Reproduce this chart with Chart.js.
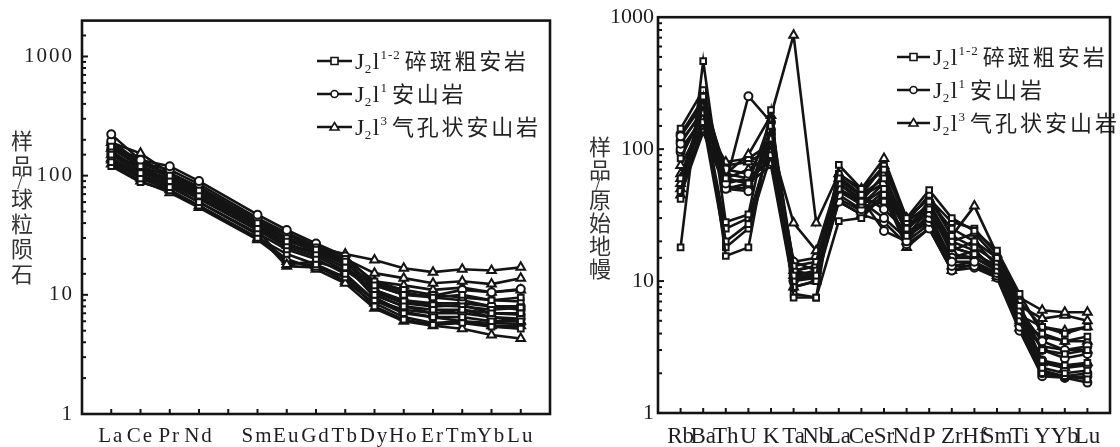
<!DOCTYPE html>
<html>
<head>
<meta charset="utf-8">
<script src="https://cdn.jsdelivr.net/npm/chart.js@4.4.1/dist/chart.umd.min.js"></script>
<style>
  body { margin: 0; background: #fff; }
  .box { position: absolute; top: 0; width: 560px; height: 447px; }
</style>
</head>
<body>
<div class="box" style="left:0"><canvas id="ree"></canvas></div>
<div class="box" style="left:560px"><canvas id="spider"></canvas></div>
<script>
// ---- data ----
// chondrite normalised REE (Pm left empty)
var reeLabels = ['La', 'Ce', 'Pr', 'Nd', '', 'Sm', 'Eu', 'Gd', 'Tb', 'Dy', 'Ho', 'Er', 'Tm', 'Yb', 'Lu'];
var reeSquare = [
  [175, 120, 100, 75, null, 40, 28, 24, 19, 12, 10, 9.5, 10, 9, 9.5],
  [150, 105, 90, 68, null, 36, 26, 22, 17, 10, 8, 7.5, 7.5, 7, 7],
  [130, 95, 80, 60, null, 33, 24, 20, 15, 9, 7, 6.5, 6.5, 6, 6],
  [120, 88, 75, 56, null, 30, 22, 18, 14, 8, 6.2, 5.6, 5.8, 5.4, 5.2],
  [160, 110, 92, 70, null, 38, 30, 25, 20, 13, 11, 10, 9.5, 9, 8.8],
  [140, 100, 85, 64, null, 35, 25, 21, 16, 11, 8.8, 8.2, 8, 7.5, 7.8]
];
var reeCircle = [
  [222, 135, 120, 90, null, 47, 35, 27, 21, 12.5, 10.5, 9.5, 9, 8, 7.5],
  [195, 128, 112, 85, null, 44, 33, 26, 20, 11, 9, 8.5, 8.5, 8, 8],
  [185, 125, 105, 80, null, 42, 32, 25, 19.5, 10, 8, 7, 7, 6.5, 6.3],
  [170, 118, 100, 78, null, 40, 29, 23, 18, 9.5, 7.2, 6.5, 6, 5.8, 5.7],
  [160, 112, 95, 72, null, 39, 30, 24, 18.5, 12, 10, 9.8, 11, 10.5, 11.2],
  [150, 105, 88, 66, null, 37, 27, 22, 17, 10.5, 8.5, 8, 8.2, 7, 6.8]
];
var reeTriangle = [
  [190, 154, 105, 80, null, 42, 30, 25, 22, 19.6, 16.7, 15.5, 16.4, 16, 17],
  [170, 140, 98, 74, null, 40, 26, 23, 20, 15.2, 13.8, 12.5, 13, 12.3, 13.8],
  [150, 118, 90, 66, null, 35, 18, 19, 16, 13, 12, 11, 11.5, 10.5, 11],
  [140, 100, 82, 60, null, 32, 17.4, 17, 14, 9, 7.5, 7, 7.5, 6.5, 6],
  [135, 95, 76, 56, null, 30, 20, 16.4, 12.5, 7.7, 6, 5.5, 5.2, 4.6, 4.3],
  [125, 90, 72, 54, null, 29, 19, 17.5, 13, 8.5, 6.5, 5.8, 6, 5.5, 5.5]
];

// primitive mantle normalised trace elements
var spLabels = ['Rb', 'Ba', 'Th', 'U', 'K', 'Ta', 'Nb', 'La', 'Ce', 'Sr', 'Nd', 'P', 'Zr', 'Hf', 'Sm', 'Ti', 'Y', 'Yb', 'Lu'];
var spSquare = [
  [18, 465, 28, 32, 198, 7.5, 7.5, 76, 50, 70, 30, 49, 30, 24, 17, 8, 4, 3.5, 3.8],
  [42, 250, 15.5, 18, 150, 8, 7.5, 28.5, 30, 45, 25, 40, 25, 20, 15, 6.5, 3, 2.8, 3],
  [48, 220, 20, 27, 120, 11, 11, 60, 45, 60, 28, 45, 22, 18, 14, 6, 2.5, 2.3, 2.4],
  [85, 190, 25, 30, 110, 10, 12, 55, 40, 40, 22, 35, 18, 16, 13, 5.5, 2.2, 2, 2.1],
  [143, 280, 60, 55, 170, 13, 14, 65, 48, 75, 30, 42, 28, 25, 16, 7, 4.5, 4, 4.5],
  [60, 160, 18, 25, 90, 9, 10, 50, 38, 50, 24, 38, 20, 17, 12, 5, 2, 1.9, 1.8]
];
var spCircle = [
  [125, 220, 55, 252, 160, 12, 13, 62, 45, 35, 24, 40, 18, 16, 13, 6, 3.5, 3, 3.2],
  [110, 200, 50, 48, 140, 10, 11, 55, 42, 24, 20, 33, 14, 14, 11.5, 5, 2.1, 1.9, 2],
  [100, 170, 60, 55, 100, 11, 12, 50, 40, 30, 21, 30, 13, 13, 11, 4.5, 2, 1.85, 1.7],
  [130, 240, 70, 65, 130, 14, 15, 45, 35, 40, 22, 28, 15, 15, 12, 5.5, 2.5, 2.2, 2.3],
  [115, 190, 52, 50, 120, 12, 13, 58, 44, 55, 26, 36, 16, 15, 12.5, 5.8, 3, 2.6, 2.8],
  [95, 180, 65, 60, 80, 10, 10.6, 40, 32, 28, 19, 25, 12, 12.6, 10.6, 4.2, 1.9, 1.85, 1.9]
];
var spTriangle = [
  [60, 210, 65, 91, 180, 730, 27.5, 65, 50, 85, 30, 42, 22, 37, 16, 7.5, 6, 5.8, 5.8],
  [75, 160, 80, 85, 110, 27.5, 17, 60, 45, 75, 28, 38, 20, 23, 15, 6.5, 5.2, 5.5, 5],
  [65, 150, 75, 80, 100, 14, 12, 50, 40, 65, 25, 34, 17, 20, 13, 5.5, 4.5, 4.2, 4.5],
  [55, 140, 60, 70, 90, 12, 11, 48, 38, 55, 23, 30, 15, 17, 12, 5, 3.8, 3.5, 3.5],
  [50, 145, 55, 60, 85, 11, 10.6, 42, 34, 48, 20, 27, 13, 14, 11, 4.8, 3.2, 3, 3],
  [45, 135, 50, 55, 75, 9, 10, 40, 32, 45, 18, 25, 12, 13.5, 10.6, 4.4, 2.4, 2.2, 2.4]
];

var legendSup = ['1-2', '1', '3'];
var legendName = ['碎斑粗安岩', '安山岩', '气孔状安山岩'];
var legendStyle = ['rect', 'circle', 'triangle'];

var SERIF = "'Liberation Serif', 'DejaVu Serif', serif";
var CJK = "'Noto Sans CJK SC', sans-serif";
var INK = '#141414';

// ---- helpers ----
function isDecade(v) {
  var l = Math.log10(v);
  return Math.abs(l - Math.round(l)) < 1e-6;
}

function makeSets(groups) {
  var out = [];
  groups.forEach(function (rows, g) {
    rows.forEach(function (r) {
      out.push({
        label: 'J₂l' + legendSup[g] + legendName[g],
        data: [null].concat(r, [null]),
        pointStyle: legendStyle[g],
        pointRadius: g === 2 ? 5 : 4,
        pointBackgroundColor: '#fff',
        pointBorderColor: INK,
        pointBorderWidth: 2,
        borderColor: INK,
        borderWidth: 2.6,
        spanGaps: true,
        tension: 0
      });
    });
  });
  return out;
}

function marker(ctx, style, x, y) {
  ctx.beginPath();
  if (style === 'rect') {
    ctx.rect(x - 3.5, y - 3.5, 7, 7);
  } else if (style === 'circle') {
    ctx.arc(x, y, 3.5, 0, Math.PI * 2);
  } else {
    ctx.moveTo(x, y - 4.5); ctx.lineTo(x + 4.5, y + 3); ctx.lineTo(x - 4.5, y + 3); ctx.closePath();
  }
  ctx.fillStyle = '#fff';
  ctx.fill();
  ctx.stroke();
}

// inward ticks + box
var frame = {
  id: 'frame',
  afterDraw: function (chart) {
    var ctx = chart.ctx, a = chart.chartArea, x = chart.scales.x, y = chart.scales.y;
    ctx.save();
    ctx.strokeStyle = INK;
    ctx.lineWidth = 2;
    y.ticks.forEach(function (t) {
      var py = y.getPixelForValue(t.value);
      if (py < a.top + 1 || py > a.bottom - 1) return;
      ctx.beginPath();
      ctx.moveTo(a.left, py);
      ctx.lineTo(a.left + (isDecade(t.value) ? 6 : 4), py);
      ctx.stroke();
    });
    for (var i = 1; i < x.ticks.length - 1; i++) {
      var px = x.getPixelForTick(i);
      ctx.beginPath();
      ctx.moveTo(px, a.bottom);
      ctx.lineTo(px, a.bottom - 5);
      ctx.stroke();
    }
    ctx.lineWidth = 2.6;
    ctx.strokeRect(a.left, a.top, a.right - a.left, a.bottom - a.top);
    ctx.restore();
  }
};

// upright vertical y title
var ytitle = {
  id: 'ytitle',
  afterDraw: function (chart, args, o) {
    var ctx = chart.ctx;
    ctx.save();
    ctx.letterSpacing = '0px';
    ctx.fillStyle = '#333';
    ctx.textAlign = 'center';
    ctx.textBaseline = 'middle';
    var yy = o.y0;
    o.chars.forEach(function (c) {
      if (c === '/') {
        ctx.font = (o.size - 2) + 'px ' + SERIF;
        ctx.fillText('/', o.x - 2, yy - o.step * 0.3);
        yy += o.step * 0.3;
        return;
      }
      ctx.font = o.size + 'px ' + CJK;
      ctx.fillText(c, o.x, yy);
      yy += o.step;
    });
    ctx.restore();
  }
};

// legend with sub/superscripts
var legendBox = {
  id: 'legendBox',
  afterDatasetsDraw: function (chart, args, o) {
    var ctx = chart.ctx;
    ctx.save();
    ctx.strokeStyle = INK;
    ctx.textBaseline = 'alphabetic';
    ctx.textAlign = 'left';
    o.rows.forEach(function (ry, g) {
      ctx.lineWidth = 2.6;
      ctx.beginPath();
      ctx.moveTo(o.x0, ry); ctx.lineTo(o.x1, ry);
      ctx.stroke();
      ctx.lineWidth = 1.6;
      marker(ctx, legendStyle[g], (o.x0 + o.x1) / 2, ry);
      ctx.fillStyle = '#222';
      var bx = o.tx, base = ry + 8;
      ctx.letterSpacing = '0px';
      ctx.font = '24px ' + SERIF;
      ctx.fillText('J', bx, base); bx += ctx.measureText('J').width + 0.5;
      ctx.font = '13px ' + SERIF;
      ctx.fillText('2', bx, base + 4); bx += ctx.measureText('2').width + 1.5;
      ctx.font = '24px ' + SERIF;
      ctx.fillText('l', bx, base); bx += ctx.measureText('l').width + 1;
      ctx.font = '13px ' + SERIF;
      ctx.letterSpacing = '1px';
      ctx.fillText(legendSup[g], bx, base - 10); bx += ctx.measureText(legendSup[g]).width + 4;
      ctx.font = o.size + 'px ' + CJK;
      ctx.letterSpacing = o.gap + 'px';
      ctx.fillText(legendName[g], bx, base);
    });
    ctx.restore();
  }
};

var spacing = {
  id: 'spacing',
  beforeDraw: function (chart, args, o) { chart.ctx.letterSpacing = o.px + 'px'; }
};

function options(cfg) {
  return {
    responsive: true,
    maintainAspectRatio: false,
    animation: false,
    layout: { padding: cfg.pad },
    scales: {
      x: {
        type: 'category',
        offset: false,
        grid: { display: false, drawTicks: false },
        border: { display: false },
        ticks: {
          autoSkip: false, maxRotation: 0, minRotation: 0,
          padding: cfg.xpad, color: '#1e1e1e',
          font: { family: SERIF, size: cfg.xsize }
        },
        afterFit: function (s) { s.height = cfg.xh; }
      },
      y: {
        type: 'logarithmic',
        min: 1, max: cfg.ymax,
        grid: { display: false, drawTicks: false },
        border: { display: false },
        ticks: {
          autoSkip: false, padding: cfg.ypad, color: '#1e1e1e',
          font: { family: SERIF, size: cfg.ysize },
          callback: function (v) { return isDecade(v) ? String(Math.round(v)) : ''; }
        },
        afterFit: function (s) { s.width = cfg.yw; }
      }
    },
    plugins: {
      legend: { display: false },
      tooltip: { enabled: false },
      spacing: { px: cfg.spacing },
      ytitle: cfg.title,
      legendBox: cfg.legend
    }
  };
}

// ---- charts ----
var reeChart = new Chart(document.getElementById('ree'), {
  type: 'line',
  data: {
    labels: [''].concat(reeLabels, ['']),
    datasets: makeSets([reeSquare, reeCircle, reeTriangle])
  },
  options: options({
    pad: { left: 0, top: 20, right: 9, bottom: 0 },
    ymax: 2000, yw: 82, xh: 33, xpad: 10, ypad: 8, xsize: 21, ysize: 21, spacing: 2,
    title: { chars: ['样', '品', '/', '球', '粒', '陨', '石'], x: 22, y0: 141, step: 25, size: 22 },
    legend: { x0: 317, x1: 352, tx: 355, rows: [61, 94, 127], size: 22, gap: 2.8 }
  }),
  plugins: [spacing, legendBox, frame, ytitle]
});

var spChart = new Chart(document.getElementById('spider'), {
  type: 'line',
  data: {
    labels: [''].concat(spLabels, ['']),
    datasets: makeSets([spSquare, spCircle, spTriangle])
  },
  options: options({
    pad: { left: 0, top: 17, right: 3, bottom: 0 },
    ymax: 1000, yw: 98, xh: 34, xpad: 10, ypad: 4, xsize: 23, ysize: 22, spacing: 0,
    title: { chars: ['样', '品', '/', '原', '始', '地', '幔'], x: 40, y0: 147, step: 23, size: 22 },
    legend: { x0: 337, x1: 370, tx: 373, rows: [57, 90, 123], size: 22, gap: 3 }
  }),
  plugins: [spacing, legendBox, frame, ytitle]
});
</script>
</body>
</html>
